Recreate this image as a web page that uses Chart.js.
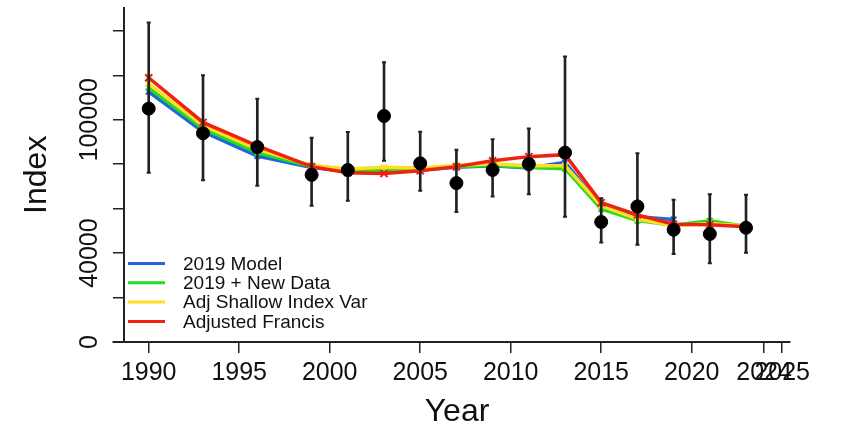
<!DOCTYPE html>
<html>
<head>
<meta charset="utf-8">
<script src="https://cdn.jsdelivr.net/npm/chart.js@4/dist/chart.umd.min.js"></script>
<style>
    html, body { margin: 0; padding: 0; background: #fff; }
    #graphique { display: block; }
</style>
</head>
<body>
<canvas id="graphique" width="843" height="429"></canvas>
<script>
const years    = [1990, 1993, 1996, 1999, 2001, 2003, 2005, 2007, 2009, 2011, 2013, 2015, 2017, 2019, 2021, 2023];
const observed = [105000, 93900, 87700, 75200, 77400, 101700, 80400, 71500, 77400, 80100, 85200, 54000, 61000, 50500, 48600, 51400];
const upper    = [143800, 120000, 109400, 91900, 94500, 125900, 94600, 86500, 91200, 96100, 128500, 64700, 84900, 64000, 66500, 66200];
const lower    = [76200, 72800, 70300, 61300, 63500, 81500, 68000, 58500, 65500, 66500, 56400, 44800, 43700, 39600, 35400, 40100];

// model fits (2019 Model stops at 2019)
const model2019    = [112600, 94600, 83700, 78500, 76700, 76800, 77400, 78600, 79300, 78300, 80800, 61000, 56300, 55100];
const newData2019  = [114300, 96100, 85200, 79000, 77000, 77000, 77700, 78900, 79500, 78500, 78000, 59800, 54600, 52500, 54500, 52000];
const adjShallow   = [116300, 97400, 86700, 79500, 77800, 78600, 78300, 79400, 80200, 79300, 79300, 61300, 55300, 52300, 53300, 52200];
const adjFrancis   = [118900, 98800, 88200, 78900, 76200, 75800, 77000, 78900, 81500, 83400, 84300, 62700, 57200, 53000, 52800, 51900];

const seriesNames  = ['2019 Model', '2019 + New Data', 'Adj Shallow Index Var', 'Adjusted Francis'];
const seriesColors = ['#2266dd', '#22dd22', '#ffdd22', '#ee2211'];

const xTicks      = [1990, 1995, 2000, 2005, 2010, 2015, 2020, 2024, 2025];
const yTicks      = [0, 20000, 40000, 60000, 80000, 100000, 120000, 140000];
const yLabels     = [0, 40000, 100000];
const xAxisStart  = 1988;

const POLICE = '"Liberation Sans", Arial, sans-serif';

const enPoints = valeurs => valeurs.map((v, i) => ({ x: years[i], y: v }));

function serieModele(valeurs, i) {
    return {
        type: 'line',
        label: seriesNames[i],
        data: enPoints(valeurs),
        borderColor: seriesColors[i],
        backgroundColor: seriesColors[i],
        borderWidth: 3.5,
        pointStyle: 'crossRot',
        pointRadius: i === 3 ? 5 : 4,
        pointBorderWidth: 2,
        tension: 0,
        order: 7 - i,
    };
}

// axes R-style : étiquettes y tournées, ligne x prolongée, légende dans le cadre
const extrasR = {
    id: 'extrasR',
    afterDraw(chart) {
        const { ctx, chartArea, scales: { x, y } } = chart;
        ctx.save();

        ctx.strokeStyle = '#222';
        ctx.lineWidth = 2;
        ctx.beginPath();
        ctx.moveTo(x.getPixelForValue(xAxisStart), chartArea.bottom);
        ctx.lineTo(chartArea.left, chartArea.bottom);
        ctx.stroke();

        ctx.font = '25px ' + POLICE;
        ctx.fillStyle = '#111';
        ctx.textAlign = 'center';
        ctx.textBaseline = 'alphabetic';
        yLabels.forEach(v => {
            ctx.save();
            ctx.translate(97, y.getPixelForValue(v));
            ctx.rotate(-Math.PI / 2);
            ctx.fillText(String(v), 0, 0);
            ctx.restore();
        });

        ctx.font = '19px ' + POLICE;
        ctx.textAlign = 'left';
        ctx.textBaseline = 'middle';
        seriesNames.forEach((nom, i) => {
            const yy = 263.5 + i * 19.3;
            ctx.strokeStyle = seriesColors[i];
            ctx.lineWidth = 3;
            ctx.beginPath();
            ctx.moveTo(chartArea.left + 4, yy);
            ctx.lineTo(chartArea.left + 41, yy);
            ctx.stroke();
            ctx.fillText(nom, chartArea.left + 59, yy + 1);
        });
        ctx.restore();
    }
};

new Chart(document.getElementById('graphique'), {
    type: 'line',
    data: {
        datasets: [
            {
                type: 'scatter',
                label: 'Observed',
                data: enPoints(observed),
                backgroundColor: '#000',
                borderColor: '#000',
                pointRadius: 6.5,
                order: 1,
            },
            {
                type: 'scatter',
                label: 'caps',
                data: [...enPoints(upper), ...enPoints(lower)],
                pointStyle: 'line',
                pointRadius: 2,
                borderColor: '#222',
                pointBorderWidth: 2,
                order: 2,
            },
            {
                type: 'bar',
                label: 'errors',
                data: years.map((yr, i) => ({ x: yr, y: [lower[i], upper[i]] })),
                backgroundColor: '#222',
                barThickness: 2,
                grouped: false,
                order: 3,
            },
            serieModele(model2019, 0),
            serieModele(newData2019, 1),
            serieModele(adjShallow, 2),
            serieModele(adjFrancis, 3),
        ]
    },
    options: {
        responsive: false,
        animation: false,
        layout: { padding: { left: 0, top: 6, right: 53, bottom: 0 } },
        plugins: { legend: { display: false }, tooltip: { enabled: false } },
        scales: {
            x: {
                type: 'linear',
                offset: false,
                min: 1988.635,
                max: 2025.43,
                afterBuildTicks: scale => { scale.ticks = xTicks.map(v => ({ value: v })); },
                afterFit: scale => { scale.height = 87; },
                ticks: {
                    autoSkip: false,
                    maxRotation: 0,
                    padding: 5,
                    color: '#111',
                    font: { family: POLICE, size: 25 },
                    callback: v => String(v),
                },
                grid: { offset: false, drawOnChartArea: false, drawTicks: true, tickLength: 11, color: '#222', lineWidth: 1.5 },
                border: { display: true, color: '#222', width: 2 },
                title: {
                    display: true,
                    text: 'Year',
                    color: '#111',
                    font: { family: POLICE, size: 32, lineHeight: 1 },
                    padding: { top: 0, bottom: 1 },
                },
            },
            y: {
                min: 0,
                max: 150500,
                afterBuildTicks: scale => { scale.ticks = yTicks.map(v => ({ value: v })); },
                afterFit: scale => { scale.width = 124; },
                ticks: { display: false },
                grid: { drawOnChartArea: false, drawTicks: true, tickLength: 11, color: '#222', lineWidth: 1.5 },
                border: { display: true, color: '#222', width: 2 },
                title: {
                    display: true,
                    text: 'Index',
                    color: '#111',
                    font: { family: POLICE, size: 32, lineHeight: 1 },
                    padding: { top: 21.6, bottom: 0 },
                },
            },
        },
    },
    plugins: [extrasR],
});
</script>
</body>
</html>
